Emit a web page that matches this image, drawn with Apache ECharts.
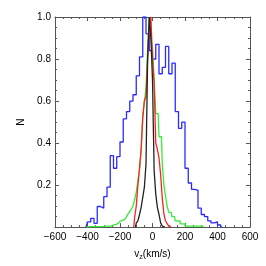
<!DOCTYPE html>
<html>
<head>
<meta charset="utf-8">
<script src="https://cdn.jsdelivr.net/npm/echarts@6/dist/echarts.min.js"></script>
<style>html,body{margin:0;padding:0;background:#fff}#c{width:266px;height:266px}</style>
</head>
<body>
<div id="c"></div>
<script>
// x tick labels
const xTicks = [-600, -400, -200, 0, 200, 400, 600];
const yTicks = [0.2, 0.4, 0.6, 0.8, 1.0];

// Blue histogram: bin centers (km/s) and normalised counts
const blueX = [-410,-390,-370,-350,-330,-310,-290,-270,-250,-230,-210,-190,-170,-150,-130,-110,-90,-70,-50,-30,-10,10,30,50,70,90,110,130,150,170,190,210,230,250,270,290,310,330,350,370,390,410,430];
const blueN = [0,0.025,0.042,0.018,0.098,0.09,0.145,0.19,0.34,0.28,0.335,0.405,0.515,0.55,0.6,0.63,0.72,0.81,1.0,0.92,0.84,0.80,0.87,0.73,0.76,0.86,0.73,0.78,0.55,0.47,0.50,0.28,0.21,0.18,0.175,0.09,0.06,0.05,0.03,0.02,0.025,0.01,0];

// Green histogram
const greenX = [-405,-395,-385,-375,-365,-355,-345,-335,-325,-315,-305,-295,-285,-275,-265,-255,-245,-235,-225,-215,-205,-195,-185,-175,-165,-155,-145,-135,-125,-115,-105,-95,-85,-75,-65,-55,-45,-35,-25,-15,-5,5,15,25,35,45,55,65,75,85,95,105,115,125,135,145,155,165,175,185,195,205,215,225,235,245,255,265,275,285,295,305,315];
const greenN = [0,0.002,0.002,0.002,0.002,0.002,0.002,0.002,0.002,0.002,0.003,0.005,0.005,0.005,0.005,0.005,0.01,0.013,0.013,0.018,0.023,0.028,0.031,0.038,0.044,0.05,0.063,0.075,0.086,0.1,0.13,0.165,0.22,0.27,0.36,0.53,0.6,0.66,0.85,1.0,0.9,0.85,0.7,0.54,0.54,0.43,0.43,0.305,0.2,0.148,0.1,0.07,0.07,0.05,0.05,0.03,0.03,0.03,0.015,0.015,0.015,0.005,0.005,0.005,0.005,0.005,0.005,0.005,0.005,0.005,0.005,0.005,0];

// Red histogram
const redX = [-115,-105,-95,-85,-75,-65,-55,-45,-35,-25,-15,-5,5,15,25,35,45,55,65,75,85,95,105,115];
const redN = [0,0.047,0.1,0.2,0.28,0.37,0.52,0.6,0.62,0.8,0.95,1.0,0.8,0.69,0.4,0.37,0.33,0.25,0.14,0.063,0.03,0.016,0.005,0];

// Black histogram
const blackX = [-105,-95,-85,-75,-65,-55,-45,-35,-25,-15,-5,5,15,25,35,45,55,65,75];
const blackN = [0,0.019,0.03,0.06,0.094,0.141,0.19,0.3,0.8,1.0,0.9,0.7,0.27,0.157,0.094,0.06,0.02,0.005,0];

const FONT = 'Liberation Sans';
const AX = '#555';
function pair(xs, ys){ return xs.map((x,i)=>[x, ys[i]]); }
function fmtX(v){ return xTicks.indexOf(v) >= 0 ? String(v).replace('-', '\u2212') : ''; }
function fmtY(v){ return v > 0.001 ? v.toFixed(1) : ''; }

const chart = echarts.init(document.getElementById('c'), null, {renderer:'canvas'});
const xBase = {
  type:'value', min:-600, max:600, interval:200,
  axisLine:{show:true, onZero:false, lineStyle:{color:AX, width:1}},
  axisTick:{show:true, inside:true, length:4, lineStyle:{color:AX}},
  minorTick:{show:true, splitNumber:4, length:2, lineStyle:{color:AX}},
  splitLine:{show:false}
};
const yBase = {
  type:'value', min:0, max:1, interval:0.2,
  axisLine:{show:true, onZero:false, lineStyle:{color:AX, width:1}},
  axisTick:{show:true, inside:true, length:4, lineStyle:{color:AX}},
  minorTick:{show:true, splitNumber:4, length:2, lineStyle:{color:AX}},
  splitLine:{show:false}
};
function series(name, xs, ys, color, w){
  return {name, type:'line', step:'middle', data:pair(xs,ys), showSymbol:false, symbol:'none',
    lineStyle:{color, width:w}, clip:true, animation:false, xAxisIndex:0, yAxisIndex:0};
}
chart.setOption({
  animation:false,
  backgroundColor:'#fff',
  grid:{left:55, top:17, width:195, height:213},
  xAxis:[
    Object.assign({}, xBase, {position:'bottom',
      axisLabel:{show:true, formatter:fmtX, color:'#000', fontSize:10, fontFamily:FONT, margin:5},
      name:'{n|v}{s|z}{n|(km/s)}', nameLocation:'middle', nameGap:15,
      nameTextStyle:{rich:{n:{fontSize:10, fontFamily:FONT, color:'#000', lineHeight:14}, s:{fontSize:7, fontFamily:FONT, color:'#000', lineHeight:14, padding:[7,0,0,0]}}}
    }),
    Object.assign({}, xBase, {position:'top', axisLabel:{show:false}})
  ],
  yAxis:[
    Object.assign({}, yBase, {position:'left',
      axisLabel:{show:true, formatter:fmtY, color:'#000', fontSize:10, fontFamily:FONT, margin:4},
      name:'N', nameLocation:'middle', nameGap:22, nameRotate:90,
      nameTextStyle:{fontSize:10, fontFamily:FONT, color:'#000'}
    }),
    Object.assign({}, yBase, {position:'right', axisLabel:{show:false}})
  ],
  series:[
    series('blue', blueX, blueN, '#2a2aff', 1.3),
    series('green', greenX, greenN, '#33ee33', 1.3),
    series('red', redX, redN, '#ff2020', 1.3),
    series('black', blackX, blackN, '#222222', 1.3)
  ]
});
</script>
</body>
</html>
